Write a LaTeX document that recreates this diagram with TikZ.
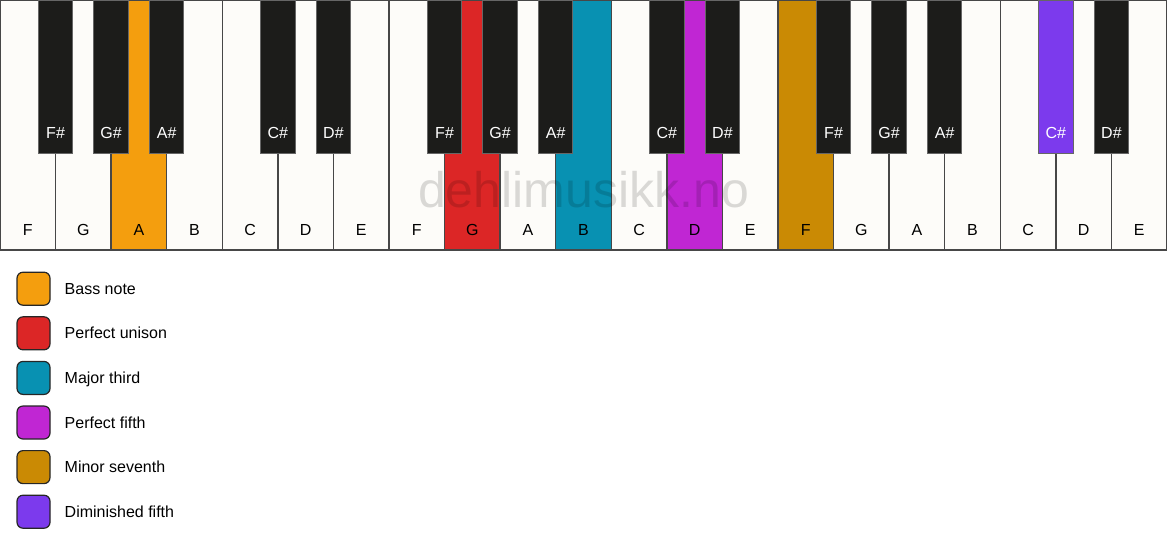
\documentclass[tikz,border=0pt]{standalone}
\usepackage{fontspec}
\setmainfont{Liberation Sans}
\usepackage{tikz}
\usetikzlibrary{positioning}
\definecolor{ivory}{HTML}{FDFCF9}
\definecolor{keyline}{HTML}{474747}
\definecolor{keyblack}{HTML}{1C1C1A}
\definecolor{bassnote}{HTML}{F49E0E}
\definecolor{unisonred}{HTML}{DC2626}
\definecolor{thirdblue}{HTML}{0891B2}
\definecolor{fifthpink}{HTML}{C026D3}
\definecolor{seventhgold}{HTML}{CA8A04}
\definecolor{dimviolet}{HTML}{7C3AED}
\tikzset{my_keyboard/.style={x=55.571pt,y=-1pt,font=\fontsize{16}{19}\selectfont,node distance=11.6pt}}
\tikzset{my_key_label/.style={anchor=base, yshift=14.5pt, inner sep=0pt}}
\tikzset{my_white_key/.style={draw=keyline, line width=1.5pt, fill=ivory, anchor=north west, inner sep=0pt, outer sep=0pt, minimum width=55.571pt, minimum height=250pt, label={[my_key_label]south:#1}}}
\tikzset{my_black_key/.style={draw=black!60, line width=1pt, fill=keyblack, anchor=north, inner sep=0pt, outer sep=0pt, minimum width=34.5pt, minimum height=153pt, label={[my_key_label, text=white]south:#1}}}
\tikzset{my_legend_text/.style={anchor=west, xshift=14.5pt, inner sep=0pt, text height=11.2pt, text depth=0pt}}
\tikzset{my_legend_box/.style={draw=black!85, line width=1.2pt, rounded corners=6pt, minimum size=33pt, inner sep=0pt, outer sep=0pt, label={[my_legend_text]east:#1}}}

\begin{document}
\begin{tikzpicture}[my_keyboard]
    \useasboundingbox (0,0) rectangle (21,550);
    % white keys
    \node[my_white_key=F] (F1) at (0,0) {};
    \node[my_white_key=G] (G1) at (1,0) {};
    \node[my_white_key=A, fill=bassnote] (A1) at (2,0) {};
    \node[my_white_key=B] (B1) at (3,0) {};
    \node[my_white_key=C] (C1) at (4,0) {};
    \node[my_white_key=D] (D1) at (5,0) {};
    \node[my_white_key=E] (E1) at (6,0) {};
    \node[my_white_key=F] (F2) at (7,0) {};
    \node[my_white_key=G, fill=unisonred] (G2) at (8,0) {};
    \node[my_white_key=A] (A2) at (9,0) {};
    \node[my_white_key=B, fill=thirdblue] (B2) at (10,0) {};
    \node[my_white_key=C] (C2) at (11,0) {};
    \node[my_white_key=D, fill=fifthpink] (D2) at (12,0) {};
    \node[my_white_key=E] (E2) at (13,0) {};
    \node[my_white_key=F, fill=seventhgold] (F3) at (14,0) {};
    \node[my_white_key=G] (G3) at (15,0) {};
    \node[my_white_key=A] (A3) at (16,0) {};
    \node[my_white_key=B] (B3) at (17,0) {};
    \node[my_white_key=C] (C3) at (18,0) {};
    \node[my_white_key=D] (D3) at (19,0) {};
    \node[my_white_key=E] (E3) at (20,0) {};
    \draw[keyline, line width=2.5pt] (F1.north west) rectangle (E3.south east);

    \node[text=black, text opacity=0.14, font=\fontsize{50}{60}\selectfont] (watermark) at (10.5,190) {dehlimusikk.no};

    % black keys
    \node[my_black_key=F\#] (Fs1) at (1,0) {};
    \node[my_black_key=G\#] (Gs1) at (2,0) {};
    \node[my_black_key=A\#] (As1) at (3,0) {};
    \node[my_black_key=C\#] (Cs1) at (5,0) {};
    \node[my_black_key=D\#] (Ds1) at (6,0) {};
    \node[my_black_key=F\#] (Fs2) at (8,0) {};
    \node[my_black_key=G\#] (Gs2) at (9,0) {};
    \node[my_black_key=A\#] (As2) at (10,0) {};
    \node[my_black_key=C\#] (Cs2) at (12,0) {};
    \node[my_black_key=D\#] (Ds2) at (13,0) {};
    \node[my_black_key=F\#] (Fs3) at (15,0) {};
    \node[my_black_key=G\#] (Gs3) at (16,0) {};
    \node[my_black_key=A\#] (As3) at (17,0) {};
    \node[my_black_key=C\#, fill=dimviolet] (Cs3) at (19,0) {};
    \node[my_black_key=D\#] (Ds3) at (20,0) {};

    % legend
    \node[my_legend_box=Bass note, fill=bassnote] (bass) at (0.603,288.7) {};
    \node[my_legend_box=Perfect unison, fill=unisonred, below=of bass] (unison) {};
    \node[my_legend_box=Major third, fill=thirdblue, below=of unison] (third) {};
    \node[my_legend_box=Perfect fifth, fill=fifthpink, below=of third] (fifth) {};
    \node[my_legend_box=Minor seventh, fill=seventhgold, below=of fifth] (seventh) {};
    \node[my_legend_box=Diminished fifth, fill=dimviolet, below=of seventh] (dimfifth) {};
\end{tikzpicture}
\end{document}
